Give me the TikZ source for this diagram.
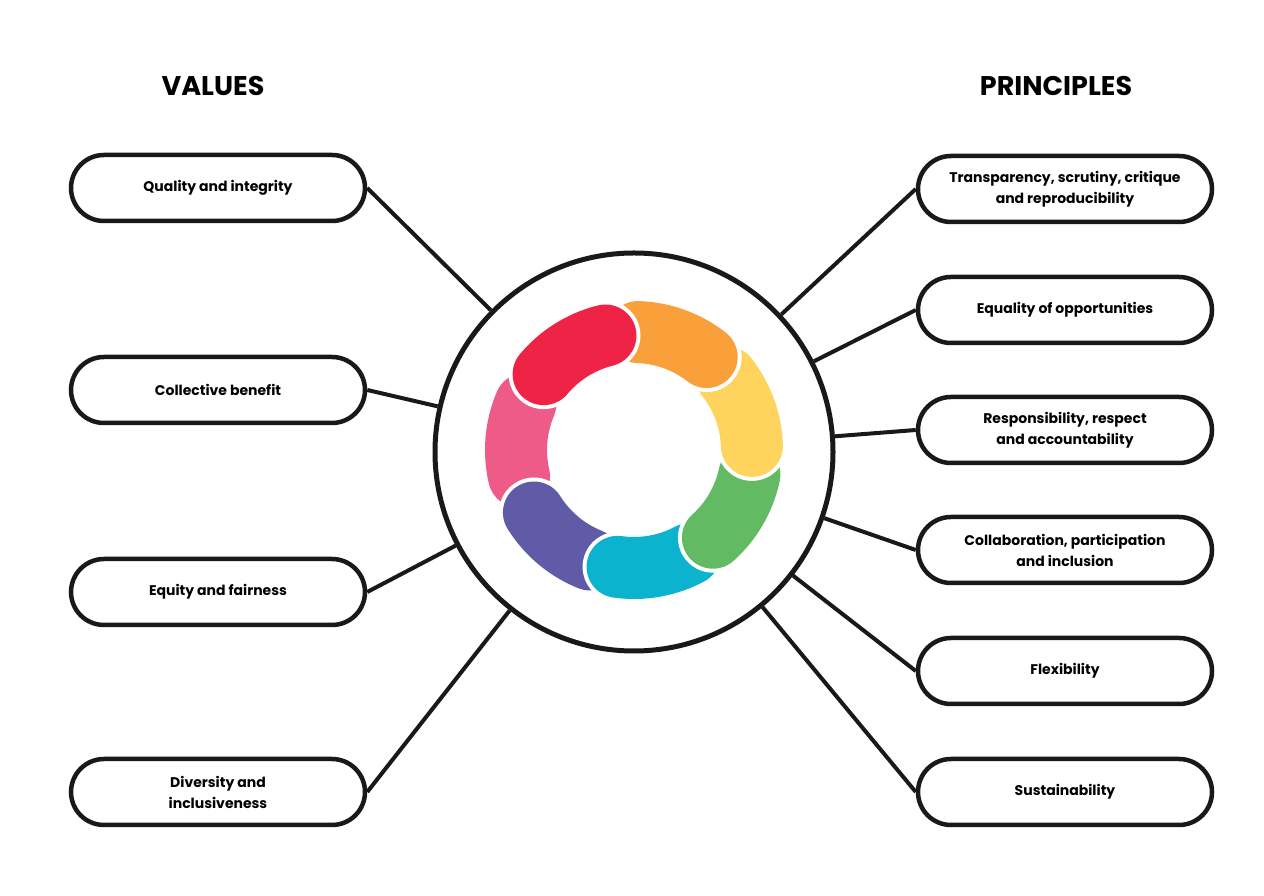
\documentclass[tikz,border=0pt]{standalone}
\usepackage{fontspec}
\setmainfont{Poppins}
\begin{document}
\begin{tikzpicture}[x=1pt,y=1pt,
  box/.style={draw=black!90,line width=4.5pt,rounded corners=33pt,minimum width=294pt,minimum height=66pt,align=center,font=\bfseries\fontsize{14}{21}\selectfont},
  conn/.style={draw=black!90,line width=4pt},
  ttl/.style={font=\bfseries\fontsize{27}{30}\selectfont}]
\useasboundingbox (0,0) rectangle (1264,896);
\node[ttl] at (213,810) {VALUES};
\node[ttl] at (1056,810) {PRINCIPLES};
\node[draw=black!90,line width=5pt,circle,minimum size=398pt] (c) at (634,444) {};
\node[box] (l1) at (218,708) {Quality and integrity};
\node[box] (l2) at (218,506) {Collective benefit};
\node[box] (l3) at (218,304) {Equity and fairness};
\node[box] (l4) at (218,104) {Diversity and\\inclusiveness};
\node[box] (r1) at (1065,707) {Transparency, scrutiny, critique\\and reproducibility};
\node[box] (r2) at (1065,586) {Equality of opportunities};
\node[box] (r3) at (1065,466) {Responsibility, respect\\and accountability};
\node[box] (r4) at (1065,346) {Collaboration, participation\\and inclusion};
\node[box] (r5) at (1065,225) {Flexibility};
\node[box] (r6) at (1065,104) {Sustainability};
\foreach \n in {l1,l2,l3,l4} \draw[conn] (\n.east) -- (c);
\foreach \n in {r1,r2,r3,r4,r5,r6} \draw[conn] (\n.west) -- (c);
\definecolor{cR}{HTML}{EE2346}\definecolor{cO}{HTML}{F9A03B}\definecolor{cY}{HTML}{FFD45E}
\definecolor{cG}{HTML}{62BB62}\definecolor{cC}{HTML}{0BB3CF}\definecolor{cP}{HTML}{5F5BA7}\definecolor{cK}{HTML}{EE5B89}
\coordinate (m) at (634,446);
\foreach \a/\col in {175/cK,-130/cP,-80/cC,-30/cG,20/cY,70/cO,122/cR}{
  \draw[white,line width=70pt,line cap=round] ([shift={(\a+18:118)}]m) arc[start angle=\a+18,end angle=\a-18,radius=118];
  \draw[\col,line width=62pt,line cap=round] ([shift={(\a+18:118)}]m) arc[start angle=\a+18,end angle=\a-18,radius=118];
}
\end{tikzpicture}
\end{document}
